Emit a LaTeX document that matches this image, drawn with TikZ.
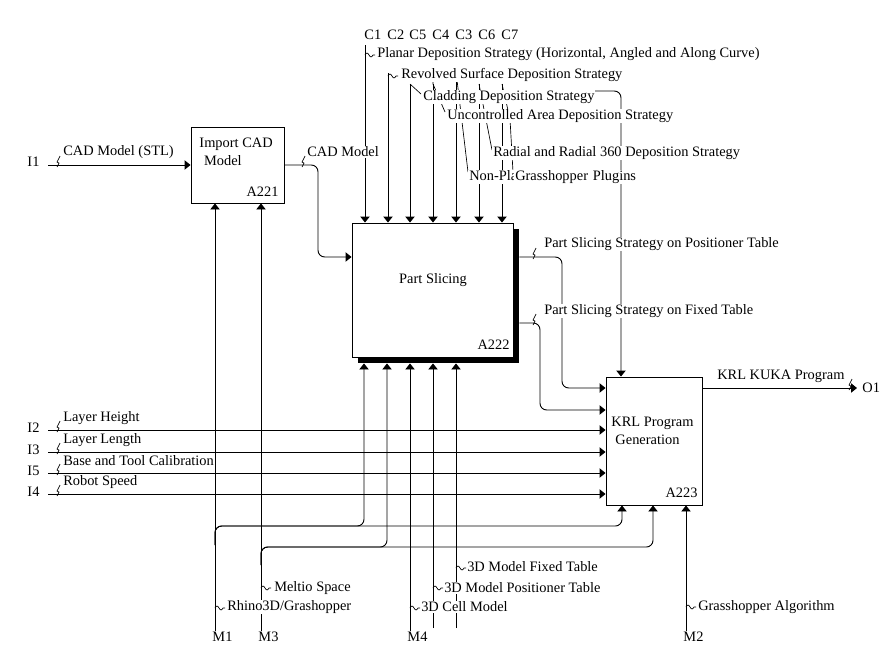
\documentclass[tikz,border=0pt]{standalone}
\usepackage{fontspec}
\setmainfont{Liberation Serif}
\usetikzlibrary{arrows.meta,positioning}

\begin{document}
\begin{tikzpicture}[x=0.75pt,y=-0.75pt,line width=0.7pt,
  box/.style={draw,fill=white,inner sep=0pt},
  shade/.style={fill=black,inner sep=0pt},
  txt/.style={inner sep=0pt,font=\fontsize{10.8}{13.5}\selectfont},
  lbl/.style={txt,fill=white,inner sep=0.6pt,anchor=west},
  tag/.style={txt,anchor=west},
  arr/.style={-{Triangle[length=4.5pt,width=7pt]}},
  conn/.style={arr,rounded corners=5pt},
  lead/.style={line width=0.5pt},
  sqi/.pic={\draw[lead] (0,2) -- (2,-2) -- (0,-3) -- (3,-9);},
  sqc/.pic={\draw[lead] (0,0) sin (2,-2) cos (4,0) sin (6,2) cos (8,0) -- (10,0);}]
\useasboundingbox (0,0) rectangle (885,647);

% activity boxes
\node[box,minimum width=69.75pt,minimum height=57pt] (a221) at (237.5,165) {};
\node[shade,minimum width=120.75pt,minimum height=100.5pt] (s222) at (438.5,296) {};
\node[box,minimum width=120.75pt,minimum height=100.5pt] (a222) at (432.5,290) {};
\node[box,minimum width=72pt,minimum height=96pt] (a223) at (654,441) {};
\node[txt,anchor=west,align=left] (t221) at (199,152) {Import CAD\\\hspace*{3.5pt}Model};
\node[txt] (t222) at (433,280) {Part Slicing};
\node[txt,anchor=west,align=left] (t223) at (611,431) {KRL Program\\\hspace*{3pt}Generation};
\node[txt,anchor=east] (id221) at (279,192) {A221};
\node[txt,anchor=east] (id222) at (510,345) {A222};
\node[txt,anchor=east] (id223) at (698,493) {A223};

% controls
\foreach \n/\x/\y in {1/365/45,2/388/73,5/410/84,4/433/84,3/456/74,6/479/84,7/502/84} {
  \node[tag] (c\n) at (\x-1,35) {C\n};
  \draw[arr] (\x,\y) coordinate (cs\n) -- (cs\n |- a222.north);
}
\draw[conn] (575,91) -- (621,91) -- (621,0 |- a223.north);
\draw[lead] (cs5) -- (421,94);
\draw[lead] (433,74) -- (cs4) -- (445,112);
\draw[lead] (457,80) -- (468,172);
\draw[lead] (cs6) -- (492,150);
\draw[lead] (cs7) -- (510,119) -- (513,172);

% inputs
\node[tag] (i1) at (27,162) {I1};
\draw[arr] (48,165) coordinate (is1) -- (a221.west);
\foreach \n/\y in {2/430,3/452,5/473,4/494} {
  \node[tag] (i\n) at (27,\y-2) {I\n};
  \draw[arr] (48,\y) coordinate (is\n) -- (is\n -| a223.west);
}

% outputs
\draw[conn] (a221.east) -- (318,165) |- (a222.west |- 0,257);
\draw[conn] (s222.east |- 0,257) -- (562,257) |- (a223.west |- 0,388);
\draw[conn] (s222.east |- 0,323) -- (540,323) |- (a223.west |- 0,410);
\draw[arr] (a223.east |- 0,388) -- (857,388) coordinate (os1);
\node[tag] (o1) at (862,388) {O1};

% mechanisms
\foreach \n/\x in {1/215,3/261} {
  \node[tag] (m\n) at (\x-3,637) {M\n};
  \draw[arr] (\x,631) coordinate (ms\n) -- (ms\n |- a221.south);
}
\node[tag] (m4) at (407,637) {M4};
\node[tag] (m2) at (683,637) {M2};
\draw[arr] (410,631) coordinate (ms4) -- (ms4 |- s222.south);
\draw[arr] (433,628) coordinate (mp) -- (mp |- s222.south);
\draw[arr] (456,628) coordinate (mf) -- (mf |- s222.south);
\draw[arr] (686,631) coordinate (ms2) -- (ms2 |- a223.south);
\draw[conn] (215,545) |- (364,526) -- (364,0 |- s222.south);
\draw[conn] (215,545) |- (622,526) -- (622,0 |- a223.south);
\draw[conn] (261,565) |- (387,547) -- (387,0 |- s222.south);
\draw[conn] (261,565) |- (653,547) -- (653,0 |- a223.south);

% arrow labels
\node[lbl] (lplanar) at (376,54) {Planar Deposition Strategy (Horizontal, Angled and Along Curve)};
\pic at (365,55) {sqc};
\node[lbl] (lrevolved) at (400,75) {Revolved Surface Deposition Strategy};
\pic at (388,76) {sqc};
\node[lbl] (lcladding) at (422,97) {Cladding Deposition Strategy};
\node[lbl] (luncontrolled) at (446,116) {Uncontrolled Area Deposition Strategy};
\node[lbl] (lradial) at (492,153) {Radial and Radial 360 Deposition Strategy};
\node[lbl] (lnonplanar) at (468,177) {Non-Planar Deposition Strategy};
\node[lbl,text width=130pt,align=left] (lplugins) at (514,177) {Grasshopper Plugins};

\node[lbl] (lstl) at (62,152) {CAD Model (STL)};
\pic at (57,165) {sqi};
\node[lbl] (lcad) at (306,152) {CAD Model};
\pic at (302,165) {sqi};
\node[lbl] (lpos) at (543,244) {Part Slicing Strategy on Positioner Table};
\pic at (533,257) {sqi};
\node[lbl] (lfix) at (543,311) {Part Slicing Strategy on Fixed Table};
\pic at (533,323) {sqi};
\node[lbl] (lkrl) at (716,376) {KRL KUKA Program};
\pic at (849,388) {sqi};
\foreach \t/\y in {Layer Height/430,Layer Length/452,Base and Tool Calibration/473,Robot Speed/494} {
  \node[lbl] (li\y) at (62,\y-12) {\t};
  \pic at (57,\y) {sqi};
}

\node[lbl] (lrhino) at (226,607) {Rhino3D/Grashopper};
\pic at (215,608) {sqc};
\node[lbl] (lmeltio) at (273,588) {Meltio Space};
\pic at (261,588) {sqc};
\node[lbl] (lcell) at (420,607) {3D Cell Model};
\pic at (410,608) {sqc};
\node[lbl] (lposm) at (443,588) {3D Model Positioner Table};
\pic at (433,588) {sqc};
\node[lbl] (lfixm) at (466,567) {3D Model Fixed Table};
\pic at (456,568) {sqc};
\node[lbl] (lalgo) at (697,607) {Grasshopper Algorithm};
\pic at (686,607) {sqc};
\end{tikzpicture}
\end{document}
